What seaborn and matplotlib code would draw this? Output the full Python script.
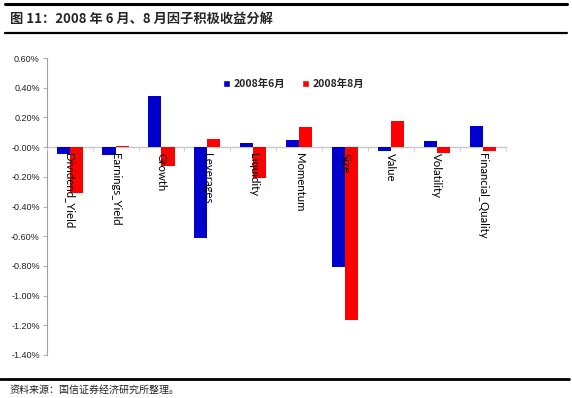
import matplotlib
matplotlib.use("Agg")
import matplotlib.pyplot as plt
import seaborn as sns
import pandas as pd
import numpy as np
from matplotlib.ticker import FuncFormatter, FixedLocator
from matplotlib.patches import Patch

categories = ["Dividend_Yield", "Earnings_Yield", "Growth", "Leverages", "Liquidity",
              "Momentum", "Size", "Value", "Volatility", "Financial_Quality"]
june = [-0.047, -0.050, 0.345, -0.610, 0.025, 0.045, -0.810, -0.025, 0.038, 0.141]
august = [-0.310, 0.006, -0.126, 0.056, -0.207, 0.135, -1.165, 0.173, -0.043, -0.027]
series_names = ["2008年6月", "2008年8月"]
title = "图 11：2008 年 6 月、8 月因子积极收益分解"
source = "资料来源：国信证券经济研究所整理。"

sns.set_theme(style="white")
plt.rcParams['font.family'] = ['Noto Sans CJK SC', 'DejaVu Sans']

df = pd.DataFrame({
    "factor": categories * 2,
    "value": june + august,
    "series": [series_names[0]] * len(categories) + [series_names[1]] * len(categories),
})

fig = plt.figure(figsize=(5.72, 3.98), dpi=100)
ax = fig.add_axes([46.7 / 572, 1 - 355 / 398, (505.7 - 46.7) / 572, (355 - 58) / 398])

sns.barplot(data=df, x="factor", y="value", hue="series", order=categories,
            hue_order=series_names, palette=["#0000CC", "#FF0000"], width=0.57,
            saturation=1, ax=ax, legend=False)
for p in ax.patches:
    p.set_linewidth(0)
ax.set_axisbelow(False)

ax.set_ylim(-1.4, 0.6)
ax.set_xlim(-0.5, len(categories) - 0.5)
ax.yaxis.set_major_locator(FixedLocator(np.arange(-1.4, 0.61, 0.2)))
ax.yaxis.set_major_formatter(FuncFormatter(lambda v, p: f"{v:.2f}%"))
ax.tick_params(axis="y", labelsize=6.5, length=3, width=0.6, color="#A0A0A0",
               labelcolor="#222222", pad=2, direction="out", left=True)
for lab in ax.get_yticklabels():
    lab.set_family(["Liberation Sans", "DejaVu Sans"])

ax.spines["top"].set_visible(False)
ax.spines["right"].set_visible(False)
ax.spines["left"].set_color("#A0A0A0")
ax.spines["left"].set_linewidth(0.8)
ax.spines["bottom"].set_position(("data", 0))
ax.spines["bottom"].set_color("#C8C8C8")
ax.spines["bottom"].set_linewidth(1.0)
ax.spines["bottom"].set_zorder(0.8)

ax.set_xticks(range(len(categories)))
ax.set_xticklabels(categories, rotation=270, ha="center", va="top",
                   fontsize=8.2, family=["Lato", "DejaVu Sans"], color="black")
ax.set_xticks(np.arange(-0.5, len(categories) + 0.5, 1), minor=True)
ax.tick_params(axis="x", which="major", length=0, pad=4.5, bottom=True)
ax.tick_params(axis="x", which="minor", length=3, width=0.6, color="#C8C8C8",
               direction="out", bottom=True)
ax.set_xlabel("")
ax.set_ylabel("")

handles = [Patch(facecolor="#0000CC", label=series_names[0]),
           Patch(facecolor="#FF0000", label=series_names[1])]
leg = fig.legend(handles=handles, loc="center left", bbox_to_anchor=(219 / 572, 1 - 84 / 398),
                 ncol=2, frameon=False, fontsize=7.5, handlelength=0.7, handleheight=0.7,
                 handletextpad=0.3, columnspacing=1.6, borderaxespad=0)
for t in leg.get_texts():
    t.set_fontweight("bold")

# title bar
fig.add_artist(plt.Line2D([0.008, 0.992], [1 - 4 / 398, 1 - 4 / 398], color="black", lw=2.2))
fig.add_artist(plt.Line2D([0.008, 0.992], [1 - 33 / 398, 1 - 33 / 398], color="black", lw=1.6))
fig.text(10 / 572, 1 - 18.5 / 398, title, fontsize=9.5, fontweight="bold", va="center", ha="left")

# footer
fig.add_artist(plt.Line2D([0.0, 0.995], [1 - 378.5 / 398, 1 - 378.5 / 398], color="black", lw=2.0))
fig.text(10 / 572, 1 - 389.5 / 398, source, fontsize=7.2, va="center", ha="left", color="#222222")

fig.savefig("out.png", dpi=100)
